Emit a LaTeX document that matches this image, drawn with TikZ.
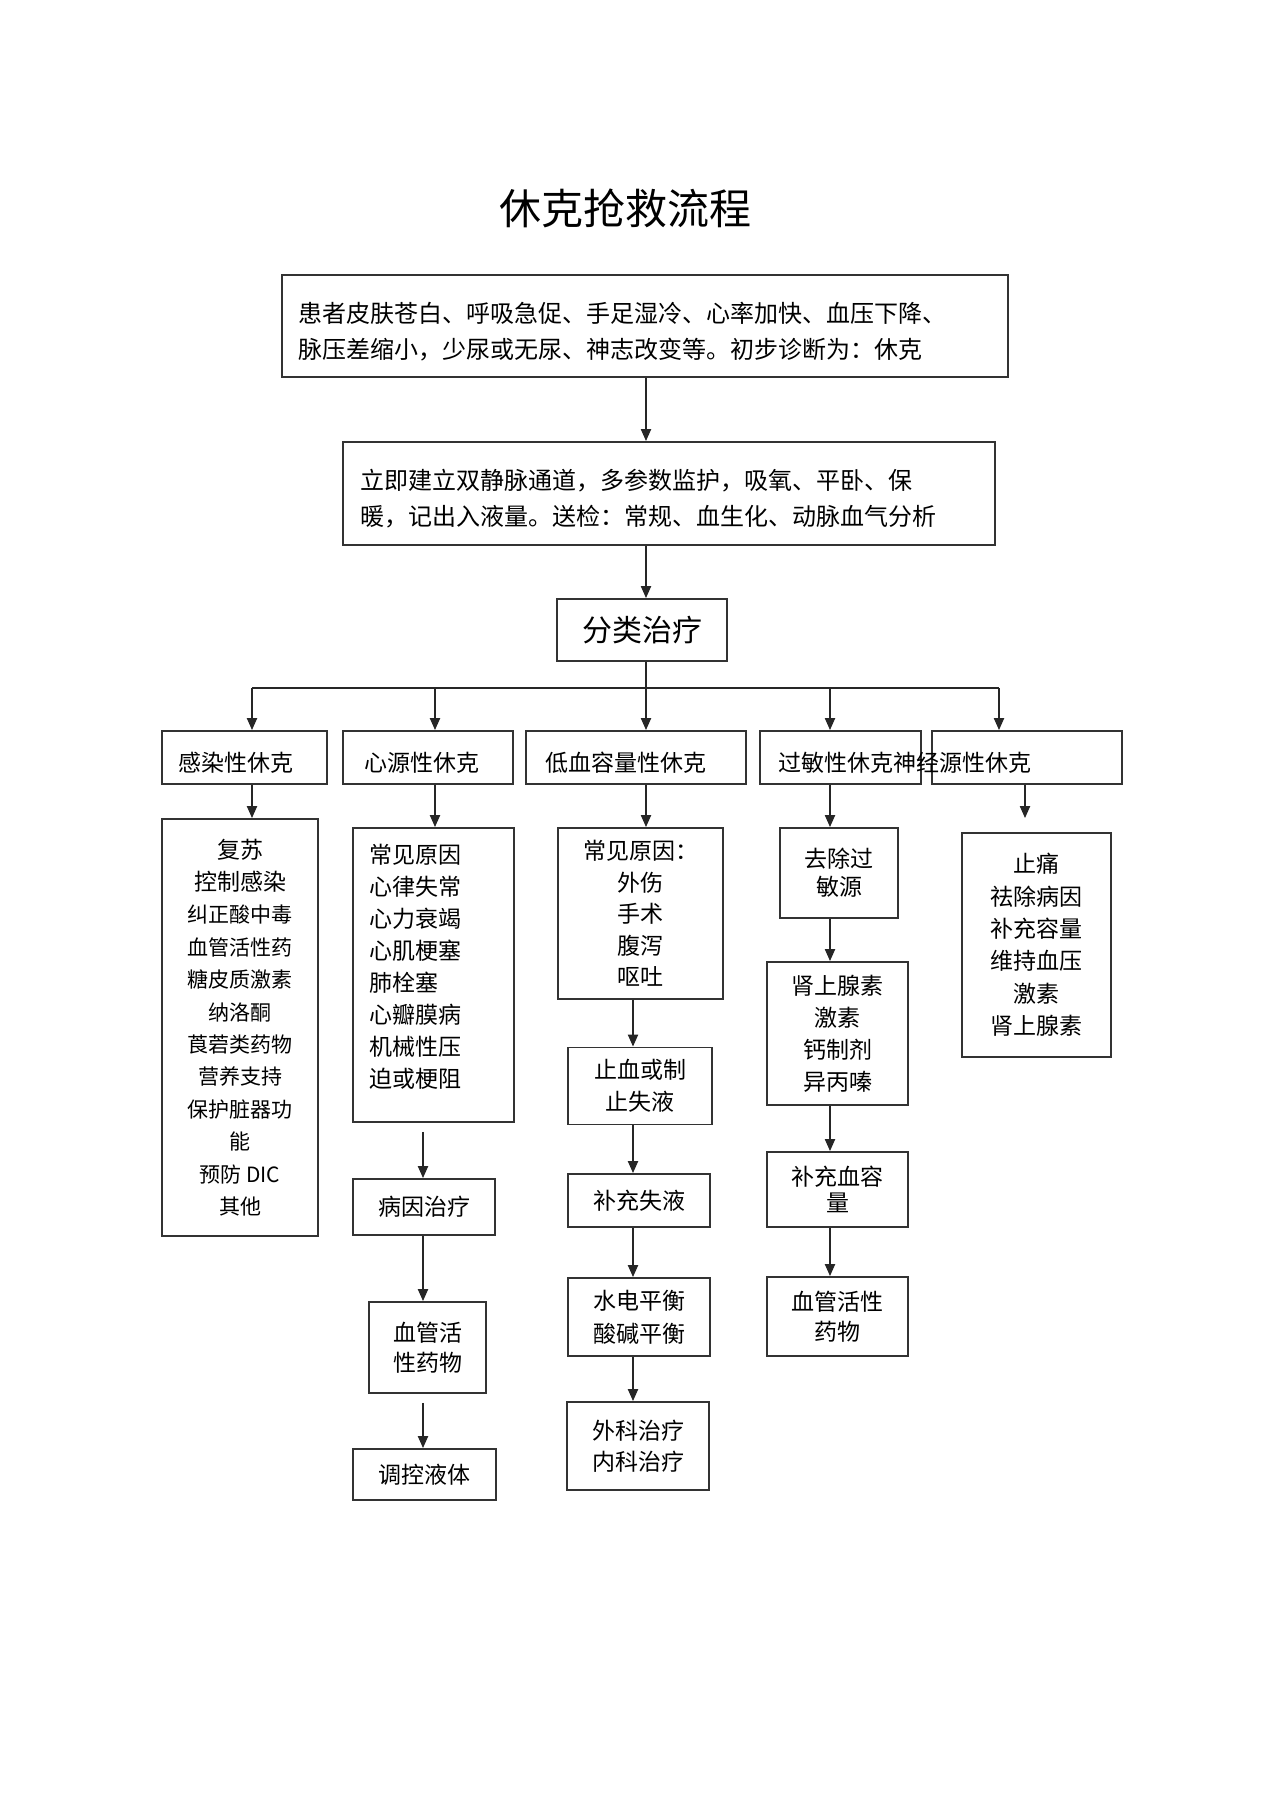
\documentclass[tikz,border=0pt]{standalone}
\usepackage{fontspec}
\setmainfont{Noto Sans CJK SC}
\usetikzlibrary{arrows.meta,calc}
\begin{document}
\begin{tikzpicture}[x=1pt,y=-1pt,
  box/.style={draw=black!80, line width=1.8pt, inner sep=0pt, align=center, font=\fontsize{23}{32}\selectfont},
  txt/.style={inner sep=0pt, font=\fontsize{23}{32}\selectfont},
  arr/.style={draw=black!85, line width=2pt, -{Triangle[width=10pt,length=12pt]}},
  ln/.style={draw=black!85, line width=2pt}]
\useasboundingbox (0,0) rectangle (1274,1804);
\fill[white] (0,0) rectangle (1274,1804);

\node[inner sep=0pt, font=\fontsize{42}{42}\selectfont] (title) at (625,208) {休克抢救流程};

\node[box, minimum width=726pt, minimum height=102pt] (b1) at (645,326) {};
\node[txt, anchor=west, align=left, font=\fontsize{24}{36}\selectfont] (b1t) at (298,332) {患者皮肤苍白、呼吸急促、手足湿冷、心率加快、血压下降、\\脉压差缩小，少尿或无尿、神志改变等。初步诊断为：休克};

\node[box, minimum width=652pt, minimum height=103pt] (b2) at (669,493.5) {};
\node[txt, anchor=west, align=left, font=\fontsize{24}{36}\selectfont] (b2t) at (360,499) {立即建立双静脉通道，多参数监护，吸氧、平卧、保\\暖，记出入液量。送检：常规、血生化、动脉血气分析};

\node[box, minimum width=170pt, minimum height=62pt, font=\fontsize{30}{30}\selectfont] (b3) at (642,630) {分类治疗};

% row of shock types
\node[box, minimum width=165pt, minimum height=53pt] (r1) at (244.5,757.5) {};
\node[box, minimum width=170pt, minimum height=53pt] (r2) at (428,757.5) {};
\node[box, minimum width=220pt, minimum height=53pt] (r3) at (636,757.5) {};
\node[box, minimum width=161pt, minimum height=53pt] (r4) at (840.5,757.5) {};
\node[box, minimum width=190pt, minimum height=53pt] (r5) at (1027,757.5) {};
\node[txt, anchor=west] (t1) at (178,763) {感染性休克};
\node[txt, anchor=west] (t2) at (364,763) {心源性休克};
\node[txt, anchor=west] (t3) at (545,763) {低血容量性休克};
\node[txt, anchor=west] (t4) at (778,763) {过敏性休克};
\node[txt, anchor=west] (t5) at (893.5,763) {神经源性休克};

% column 1
\node[box, minimum width=156pt, minimum height=417pt, font=\fontsize{21}{32.4}\selectfont] (c1) at (240,1027.5) {{\fontsize{23}{32.4}\selectfont 复苏}\\{\fontsize{23}{32.4}\selectfont 控制感染}\\纠正酸中毒\\血管活性药\\糖皮质激素\\纳洛酮\\莨菪类药物\\营养支持\\保护脏器功\\能\\预防 DIC\\其他};

% column 2
\node[box, minimum width=161pt, minimum height=294pt] (c2a) at (433.5,975) {};
\node[txt, anchor=west, align=left] (c2at) at (369,967) {常见原因\\心律失常\\心力衰竭\\心肌梗塞\\肺栓塞\\心瓣膜病\\机械性压\\迫或梗阻};
\node[box, minimum width=142pt, minimum height=56pt] (c2b) at (424,1207) {病因治疗};
\node[box, minimum width=117pt, minimum height=91pt, font=\fontsize{23}{30}\selectfont] (c2c) at (427.5,1347.5) {血管活\\性药物};
\node[box, minimum width=143pt, minimum height=51pt] (c2d) at (424.5,1474.5) {调控液体};

% column 3
\node[box, minimum width=165pt, minimum height=171pt, font=\fontsize{23}{31.5}\selectfont] (c3a) at (640.5,913.5) {常见原因：\\外伤\\手术\\腹泻\\呕吐};
\node[box, minimum width=144pt, minimum height=77pt] (c3b) at (640,1086) {止血或制\\止失液};
\node[box, minimum width=142pt, minimum height=53pt] (c3c) at (639,1200.5) {补充失液};
\node[box, minimum width=142pt, minimum height=78pt, font=\fontsize{23}{33}\selectfont] (c3d) at (639,1317) {水电平衡\\酸碱平衡};
\node[box, minimum width=142pt, minimum height=88pt, font=\fontsize{23}{31}\selectfont] (c3e) at (638,1446) {外科治疗\\内科治疗};

% column 4
\node[box, minimum width=118pt, minimum height=90pt, font=\fontsize{23}{28}\selectfont] (c4a) at (839,873) {去除过\\敏源};
\node[box, minimum width=141pt, minimum height=143pt] (c4b) at (837.5,1033.5) {肾上腺素\\激素\\钙制剂\\异丙嗪};
\node[box, minimum width=141pt, minimum height=75pt, font=\fontsize{23}{26}\selectfont] (c4c) at (837.5,1189.5) {补充血容\\量};
\node[box, minimum width=141pt, minimum height=79pt, font=\fontsize{23}{30}\selectfont] (c4d) at (837.5,1316.5) {血管活性\\药物};

% column 5
\node[box, minimum width=149pt, minimum height=224pt, font=\fontsize{23}{32.4}\selectfont] (c5) at (1036.5,945) {止痛\\祛除病因\\补充容量\\维持血压\\激素\\肾上腺素};

% helper coordinates
\coordinate (bar) at (0,688);
\coordinate (xa) at (252,0);
\coordinate (xb) at (435,0);
\coordinate (xc) at (646,0);
\coordinate (xd) at (830,0);
\coordinate (xe) at (999,0);
\coordinate (x2) at (423,0);
\coordinate (x3) at (633,0);
\coordinate (x5) at (1025,0);

% connectors
\draw[arr] (b1.south -| xc) -- (b2.north -| xc);
\draw[arr] (b2.south -| xc) -- (b3.north -| xc);
\draw[ln] (b3.south -| xc) -- (xc |- bar);
\draw[ln] (xa |- bar) -- (xe |- bar);
\draw[arr] (xa |- bar) -- (xa |- r1.north);
\draw[arr] (xb |- bar) -- (xb |- r2.north);
\draw[arr] (xc |- bar) -- (xc |- r3.north);
\draw[arr] (xd |- bar) -- (xd |- r4.north);
\draw[arr] (xe |- bar) -- (xe |- r5.north);

\draw[arr] (r1.south -| xa) -- (c1.north -| xa);

\draw[arr] (r2.south -| xb) -- (c2a.north -| xb);
\draw[arr] ($(c2a.south -| x2)+(0,9)$) -- (c2b.north -| x2);
\draw[arr] (c2b.south -| x2) -- (c2c.north -| x2);
\draw[arr] ($(c2c.south -| x2)+(0,9)$) -- (c2d.north -| x2);

\draw[arr] (r3.south -| xc) -- (c3a.north -| xc);
\draw[arr] (c3a.south -| x3) -- (c3b.north -| x3);
\draw[arr] (c3b.south -| x3) -- (c3c.north -| x3);
\draw[arr] (c3c.south -| x3) -- (c3d.north -| x3);
\draw[arr] (c3d.south -| x3) -- (c3e.north -| x3);

\draw[arr] (r4.south -| xd) -- (c4a.north -| xd);
\draw[arr] (c4a.south -| xd) -- (c4b.north -| xd);
\draw[arr] (c4b.south -| xd) -- (c4c.north -| xd);
\draw[arr] (c4c.south -| xd) -- (c4d.north -| xd);

\draw[arr] (r5.south -| x5) -- ($(c5.north -| x5)+(0,-14)$);
\end{tikzpicture}
\end{document}
